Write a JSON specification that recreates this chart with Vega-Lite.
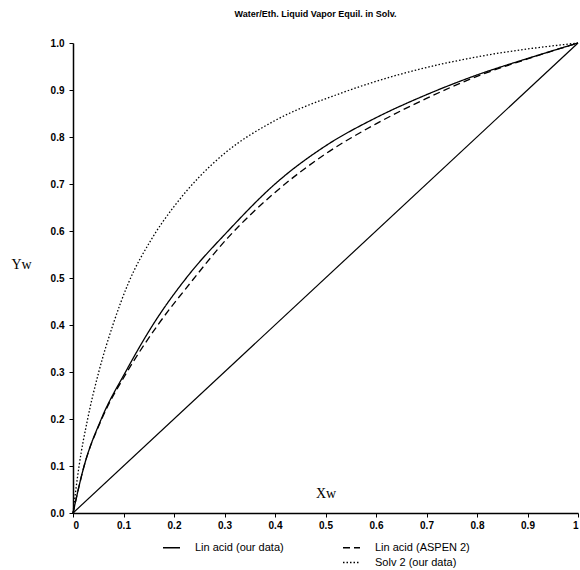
{
  "$schema": "https://vega.github.io/schema/vega-lite/v6.json",
  "width": 505,
  "height": 470,
  "autosize": "none",
  "padding": {"left": 73, "top": 43, "right": 2, "bottom": 57},
  "background": "white",
  "title": {"text": "Water/Eth. Liquid Vapor Equil. in Solv.", "fontSize": 9, "font": "Liberation Sans", "fontWeight": "bold", "offset": 19, "dx": -10, "color": "black"},
  "config": {
    "view": {"stroke": null},
    "axis": {"grid": false, "domainColor": "black", "tickColor": "black", "labelColor": "black", "titleColor": "black", "domainWidth": 1.5, "tickWidth": 1}
  },
  "layer": [
    {
      "data": {"values": [
        {"series": "Lin acid (our data)", "x": 0, "y": 0},
        {"series": "Lin acid (our data)", "x": 0.022, "y": 0.1},
        {"series": "Lin acid (our data)", "x": 0.056, "y": 0.2},
        {"series": "Lin acid (our data)", "x": 0.104, "y": 0.3},
        {"series": "Lin acid (our data)", "x": 0.158, "y": 0.4},
        {"series": "Lin acid (our data)", "x": 0.228, "y": 0.505},
        {"series": "Lin acid (our data)", "x": 0.307, "y": 0.6},
        {"series": "Lin acid (our data)", "x": 0.4, "y": 0.7},
        {"series": "Lin acid (our data)", "x": 0.5, "y": 0.781},
        {"series": "Lin acid (our data)", "x": 0.6, "y": 0.841},
        {"series": "Lin acid (our data)", "x": 0.7, "y": 0.89},
        {"series": "Lin acid (our data)", "x": 0.8, "y": 0.932},
        {"series": "Lin acid (our data)", "x": 0.9, "y": 0.967},
        {"series": "Lin acid (our data)", "x": 1, "y": 1},
        {"series": "Lin acid (ASPEN 2)", "x": 0, "y": 0},
        {"series": "Lin acid (ASPEN 2)", "x": 0.022, "y": 0.1},
        {"series": "Lin acid (ASPEN 2)", "x": 0.057, "y": 0.2},
        {"series": "Lin acid (ASPEN 2)", "x": 0.107, "y": 0.3},
        {"series": "Lin acid (ASPEN 2)", "x": 0.168, "y": 0.4},
        {"series": "Lin acid (ASPEN 2)", "x": 0.232, "y": 0.489},
        {"series": "Lin acid (ASPEN 2)", "x": 0.307, "y": 0.586},
        {"series": "Lin acid (ASPEN 2)", "x": 0.4, "y": 0.682},
        {"series": "Lin acid (ASPEN 2)", "x": 0.5, "y": 0.764},
        {"series": "Lin acid (ASPEN 2)", "x": 0.6, "y": 0.828},
        {"series": "Lin acid (ASPEN 2)", "x": 0.7, "y": 0.882},
        {"series": "Lin acid (ASPEN 2)", "x": 0.8, "y": 0.929},
        {"series": "Lin acid (ASPEN 2)", "x": 0.9, "y": 0.966},
        {"series": "Lin acid (ASPEN 2)", "x": 1, "y": 1},
        {"series": "Solv 2 (our data)", "x": 0, "y": 0},
        {"series": "Solv 2 (our data)", "x": 0.012, "y": 0.1},
        {"series": "Solv 2 (our data)", "x": 0.029, "y": 0.2},
        {"series": "Solv 2 (our data)", "x": 0.051, "y": 0.3},
        {"series": "Solv 2 (our data)", "x": 0.079, "y": 0.4},
        {"series": "Solv 2 (our data)", "x": 0.11, "y": 0.49},
        {"series": "Solv 2 (our data)", "x": 0.154, "y": 0.58},
        {"series": "Solv 2 (our data)", "x": 0.2, "y": 0.652},
        {"series": "Solv 2 (our data)", "x": 0.25, "y": 0.715},
        {"series": "Solv 2 (our data)", "x": 0.3, "y": 0.765},
        {"series": "Solv 2 (our data)", "x": 0.4, "y": 0.835},
        {"series": "Solv 2 (our data)", "x": 0.53, "y": 0.893},
        {"series": "Solv 2 (our data)", "x": 0.643, "y": 0.932},
        {"series": "Solv 2 (our data)", "x": 0.808, "y": 0.972},
        {"series": "Solv 2 (our data)", "x": 1, "y": 1}
      ]},
      "mark": {"type": "line", "interpolate": "monotone", "color": "black", "strokeWidth": 1.3},
      "encoding": {
        "x": {
          "field": "x", "type": "quantitative",
          "scale": {"domain": [0, 1], "nice": false, "zero": false},
          "axis": {
            "values": [0, 0.05, 0.1, 0.15, 0.2, 0.25, 0.3, 0.35, 0.4, 0.45, 0.5, 0.55, 0.6, 0.65, 0.7, 0.75, 0.8, 0.85, 0.9, 0.95, 1],
            "labelExpr": "round(datum.value * 100) % 10 == 0 ? format(datum.value, '~g') : ''",
            "labelOverlap": false,
            "labelFont": "Liberation Sans", "labelFontSize": 10, "labelFontWeight": "bold", "labelPadding": 3,
            "tickSize": 4,
            "title": "Xw", "titleFont": "Liberation Serif", "titleFontSize": 14, "titleFontWeight": "normal",
            "titleY": -20, "titleBaseline": "middle"
          }
        },
        "y": {
          "field": "y", "type": "quantitative",
          "scale": {"domain": [0, 1], "nice": false},
          "axis": {
            "values": [0, 0.1, 0.2, 0.3, 0.4, 0.5, 0.6, 0.7, 0.8, 0.9, 1],
            "format": ".1f",
            "labelFont": "Liberation Sans", "labelFontSize": 10, "labelFontWeight": "bold", "labelPadding": 5,
            "tickSize": 4,
            "title": "Yw", "titleFont": "Liberation Serif", "titleFontSize": 14, "titleFontWeight": "normal",
            "titleAngle": 0, "titleX": -52, "titleY": 221, "titleAlign": "center", "titleBaseline": "middle"
          }
        },
        "strokeDash": {
          "field": "series", "type": "nominal",
          "scale": {
            "domain": ["Lin acid (our data)", "Lin acid (ASPEN 2)", " ", "Solv 2 (our data)"],
            "range": [[1, 0], [7, 4], [0, 100], [1.5, 2]]
          },
          "legend": {
            "orient": "none", "legendX": 89, "legendY": 495,
            "direction": "horizontal",
            "columns": 2, "title": null,
            "symbolType": "stroke", "symbolSize": 289, "symbolStrokeWidth": 1.5, "symbolStrokeColor": "black",
            "labelFont": "Liberation Sans", "labelFontSize": 11, "labelColor": "black",
            "labelOffset": 14, "columnPadding": 56, "rowPadding": -4
          }
        }
      }
    },
    {
      "data": {"values": [{"x": 0, "y": 0}, {"x": 1, "y": 1}]},
      "mark": {"type": "line", "color": "black", "strokeWidth": 1.2},
      "encoding": {
        "x": {"field": "x", "type": "quantitative"},
        "y": {"field": "y", "type": "quantitative"}
      }
    }
  ]
}
